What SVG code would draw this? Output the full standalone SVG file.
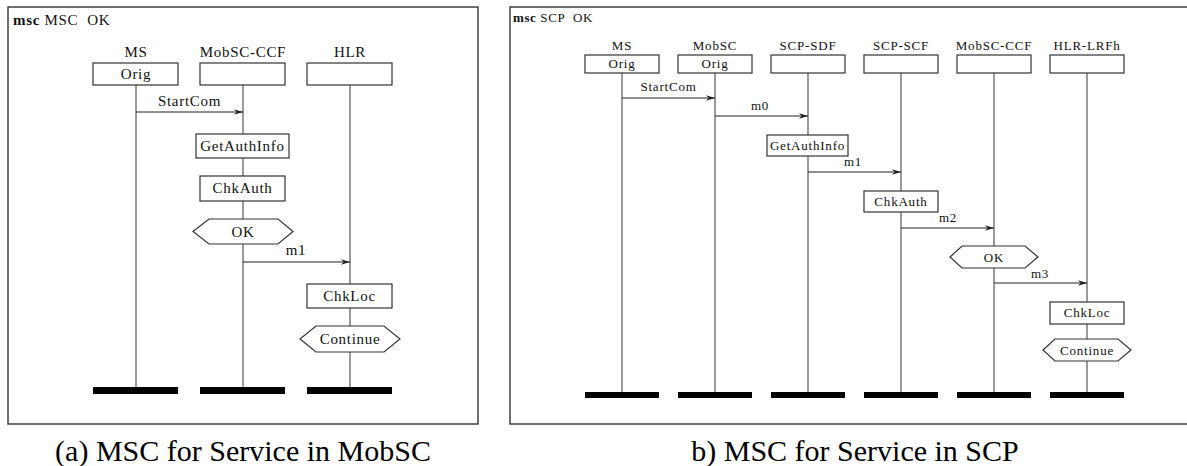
<svg xmlns="http://www.w3.org/2000/svg" width="1187" height="466" viewBox="0 0 1187 466">
<style>
.frame{fill:none;stroke:#333;stroke-width:1.4}
.box{fill:#fff;stroke:#333;stroke-width:1.2}
.life{stroke:#666;stroke-width:1.3;fill:none}
.msg{stroke:#222;stroke-width:1.1;fill:none;marker-end:url(#arr)}
.bar{fill:#000}
.tl{font-family:"Liberation Serif","DejaVu Serif",serif;font-size:15px;letter-spacing:0.7px;fill:#111;text-anchor:middle}
.tr{font-family:"Liberation Serif","DejaVu Serif",serif;font-size:13px;letter-spacing:0.8px;fill:#111;text-anchor:middle}
.ttl{font-family:"Liberation Serif","DejaVu Serif",serif;font-size:15px;letter-spacing:0.7px;fill:#111}
.ttr{font-family:"Liberation Serif","DejaVu Serif",serif;font-size:13px;letter-spacing:0.6px;fill:#111}
.cap{font-family:"Liberation Serif","Times New Roman",serif;font-size:30px;fill:#000;text-anchor:middle}
</style>
<defs>
<marker id="arr" viewBox="0 0 10 6" refX="10" refY="3" markerWidth="9" markerHeight="5.4" markerUnits="userSpaceOnUse" orient="auto">
<path d="M0,0 L10,3 L0,6 L3,3 z" fill="#222"/>
</marker>
</defs>
<rect width="1187" height="466" fill="#fff"/>

<!-- ===== Diagram (a) ===== -->
<g id="frame-a">
<rect class="frame" x="8" y="7" width="470" height="417"/>
<text class="ttl" x="13" y="25"><tspan font-weight="bold">msc</tspan> MSC&#160; OK</text>
</g>
<g id="a-connectors">
<line class="life" x1="136" y1="85" x2="136" y2="387"/>
<line class="life" x1="243" y1="85" x2="243" y2="387"/>
<line class="life" x1="350" y1="85" x2="350" y2="387"/>
<line class="msg" x1="136" y1="112" x2="243" y2="112"/>
<text class="tl" x="189.5" y="106">StartCom</text>
<line class="msg" x1="243" y1="262" x2="350" y2="262"/>
<text class="tl" x="296" y="255">m1</text>
</g>
<g id="a-ms">
<text class="tl" x="136" y="57">MS</text>
<rect class="box" x="93" y="63" width="85" height="22"/>
<text class="tl" x="136" y="79">Orig</text>
<rect class="bar" x="93" y="387" width="85" height="7"/>
</g>
<g id="a-mobsc-ccf">
<text class="tl" x="243" y="57">MobSC-CCF</text>
<rect class="box" x="200" y="63" width="85" height="22"/>
<rect class="bar" x="200" y="387" width="85" height="7"/>
</g>
<g id="a-hlr">
<text class="tl" x="350" y="57">HLR</text>
<rect class="box" x="307" y="63" width="85" height="22"/>
<rect class="bar" x="307" y="387" width="85" height="7"/>
</g>
<g id="a-getauthinfo">
<rect class="box" x="196" y="134" width="93" height="24"/>
<text class="tl" x="242.5" y="151">GetAuthInfo</text>
</g>
<g id="a-chkauth">
<rect class="box" x="200" y="176" width="85" height="25"/>
<text class="tl" x="242.5" y="193">ChkAuth</text>
</g>
<g id="a-ok">
<polygon class="box" points="193,231.5 209,219 278,219 293,231.5 278,244 209,244"/>
<text class="tl" x="243" y="237">OK</text>
</g>
<g id="a-chkloc">
<rect class="box" x="307" y="284" width="85" height="24"/>
<text class="tl" x="349.5" y="301">ChkLoc</text>
</g>
<g id="a-continue">
<polygon class="box" points="300,339 316,326 384,326 400,339 384,352 316,352"/>
<text class="tl" x="350" y="344">Continue</text>
</g>
<text class="cap" x="243" y="461">(a) MSC for Service in MobSC</text>

<!-- ===== Diagram (b) ===== -->
<g id="frame-b">
<rect class="frame" x="510" y="7" width="690" height="417"/>
<text class="ttr" x="513" y="22"><tspan font-weight="bold">msc</tspan> SCP&#160; OK</text>
</g>
<g id="b-connectors">
<line class="life" x1="622" y1="73" x2="622" y2="392"/>
<line class="life" x1="715" y1="73" x2="715" y2="392"/>
<line class="life" x1="808" y1="73" x2="808" y2="392"/>
<line class="life" x1="901" y1="73" x2="901" y2="392"/>
<line class="life" x1="994" y1="73" x2="994" y2="392"/>
<line class="life" x1="1087" y1="73" x2="1087" y2="392"/>
<line class="msg" x1="622" y1="98" x2="715" y2="98"/>
<text class="tr" x="668.5" y="91">StartCom</text>
<line class="msg" x1="715" y1="116" x2="808" y2="116"/>
<text class="tr" x="760" y="110">m0</text>
<line class="msg" x1="808" y1="172" x2="901" y2="172"/>
<text class="tr" x="853" y="166">m1</text>
<line class="msg" x1="901" y1="228" x2="994" y2="228"/>
<text class="tr" x="948" y="222">m2</text>
<line class="msg" x1="994" y1="283" x2="1087" y2="283"/>
<text class="tr" x="1040" y="278">m3</text>
</g>
<g id="b-ms">
<text class="tr" x="622" y="50">MS</text>
<rect class="box" x="585" y="55" width="74" height="18"/>
<text class="tr" x="622" y="68">Orig</text>
<rect class="bar" x="585" y="392" width="74" height="6"/>
</g>
<g id="b-mobsc">
<text class="tr" x="715" y="50">MobSC</text>
<rect class="box" x="678" y="55" width="74" height="18"/>
<text class="tr" x="715" y="68">Orig</text>
<rect class="bar" x="678" y="392" width="74" height="6"/>
</g>
<g id="b-scp-sdf">
<text class="tr" x="808" y="50">SCP-SDF</text>
<rect class="box" x="771" y="55" width="74" height="18"/>
<rect class="bar" x="771" y="392" width="74" height="6"/>
</g>
<g id="b-scp-scf">
<text class="tr" x="901" y="50">SCP-SCF</text>
<rect class="box" x="864" y="55" width="74" height="18"/>
<rect class="bar" x="864" y="392" width="74" height="6"/>
</g>
<g id="b-mobsc-ccf">
<text class="tr" x="994" y="50">MobSC-CCF</text>
<rect class="box" x="957" y="55" width="74" height="18"/>
<rect class="bar" x="957" y="392" width="74" height="6"/>
</g>
<g id="b-hlr-lrfh">
<text class="tr" x="1087" y="50">HLR-LRFh</text>
<rect class="box" x="1050" y="55" width="74" height="18"/>
<rect class="bar" x="1050" y="392" width="74" height="6"/>
</g>
<g id="b-getauthinfo">
<rect class="box" x="767" y="135" width="81" height="21"/>
<text class="tr" x="807.5" y="149.5">GetAuthInfo</text>
</g>
<g id="b-chkauth">
<rect class="box" x="864" y="191" width="74" height="21"/>
<text class="tr" x="901" y="205.5">ChkAuth</text>
</g>
<g id="b-ok">
<polygon class="box" points="950,257 962,246 1025,246 1038,257 1025,268 962,268"/>
<text class="tr" x="994" y="261.5">OK</text>
</g>
<g id="b-chkloc">
<rect class="box" x="1050" y="302" width="74" height="22"/>
<text class="tr" x="1087" y="317">ChkLoc</text>
</g>
<g id="b-continue">
<polygon class="box" points="1043,350 1055,339 1118,339 1131,350 1118,361 1055,361"/>
<text class="tr" x="1087" y="354.5">Continue</text>
</g>
<text class="cap" x="855" y="461">b) MSC for Service in SCP</text>
</svg>
